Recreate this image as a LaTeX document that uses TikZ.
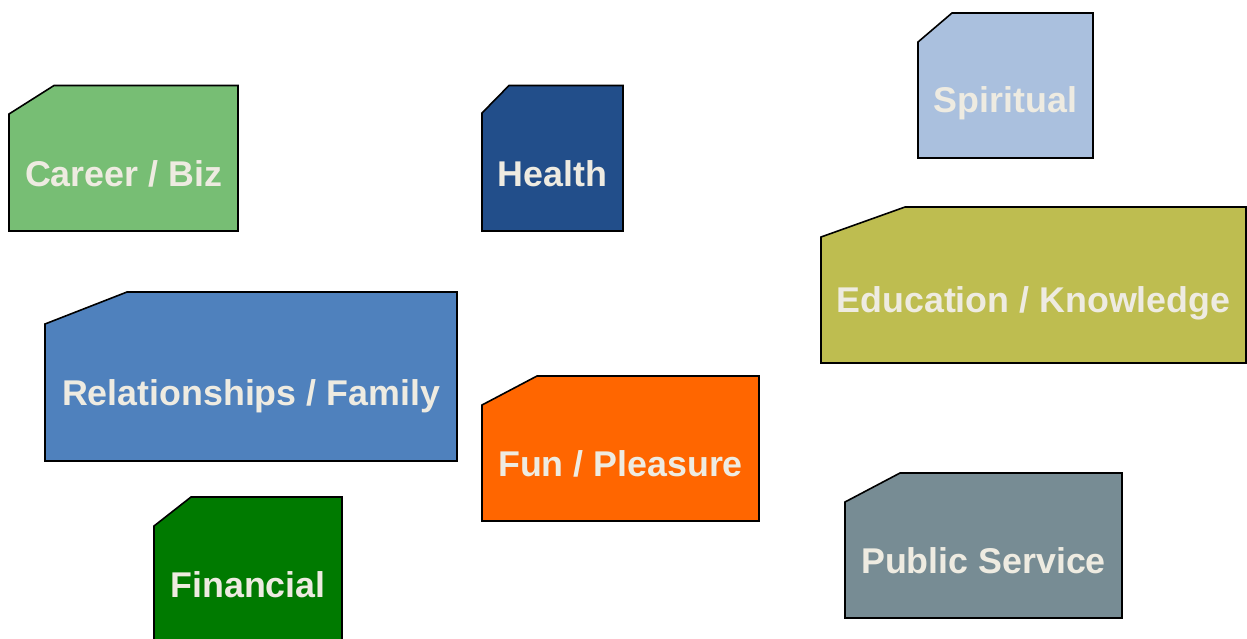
\documentclass[tikz,border=0pt]{standalone}
\usepackage{fontspec}
\setmainfont{Liberation Sans}
\definecolor{txtcream}{HTML}{EEEBE1}
\definecolor{careergreen}{HTML}{77BE74}
\definecolor{healthblue}{HTML}{224E8A}
\definecolor{spiritblue}{HTML}{AAC0DE}
\definecolor{eduolive}{HTML}{BEBD50}
\definecolor{relblue}{HTML}{4F81BD}
\definecolor{funorange}{HTML}{FF6600}
\definecolor{fingreen}{HTML}{007A00}
\definecolor{pubgray}{HTML}{778C94}
\tikzset{
  snipbox/.style={draw=black, line width=1.6pt, line join=miter},
  boxlabel/.style={anchor=base, inner sep=0pt, text=txtcream,
    font=\fontsize{35.8}{40}\selectfont\bfseries}
}
% #1 name, #2 fill, #3 left, #4 top, #5 right, #6 bottom,
% #7 x where the snipped corner meets the top, #8 y where it meets the left side,
% #9 baseline of the label; the label itself is taken from \boxtext
\newcommand\areabox[9]{%
  \fill[#2] (#7,#4) -- (#5,#4) -- (#5,#6) -- (#3,#6) -- (#3,#8) -- cycle;
  \draw[snipbox] (#7,#4) -- (#5,#4) -- (#5,#6) -- (#3,#6) -- (#3,#8) -- cycle;
  \node[boxlabel] (#1) at ({(#3+#5)/2},#9) {\boxtext};
}
\begin{document}
\begin{tikzpicture}[x=1pt, y=-1pt]
\useasboundingbox (0,0) rectangle (1247,638);
\def\boxtext{Career / Biz}\areabox{career}{careergreen}{9}{85.5}{238}{231}{54}{114}{186.5}
\def\boxtext{Health}\areabox{health}{healthblue}{482}{85.5}{623}{231}{509}{113}{186.5}
\def\boxtext{Spiritual}\areabox{spiritual}{spiritblue}{918}{13}{1093}{158}{952}{42}{112}
\def\boxtext{Education / Knowledge}\areabox{education}{eduolive}{821}{207}{1246}{363}{905}{237}{312.3}
\def\boxtext{Relationships / Family}\areabox{relations}{relblue}{45}{292}{457}{461}{127}{324}{405.7}
\def\boxtext{Fun / Pleasure}\areabox{fun}{funorange}{482}{376}{759}{521}{537}{405}{476.7}
\def\boxtext{Financial}\areabox{financial}{fingreen}{154}{497}{342}{650}{191}{526}{597}
\def\boxtext{Public Service}\areabox{public}{pubgray}{845}{473}{1122}{618}{900}{502}{573.3}
\end{tikzpicture}
\end{document}
